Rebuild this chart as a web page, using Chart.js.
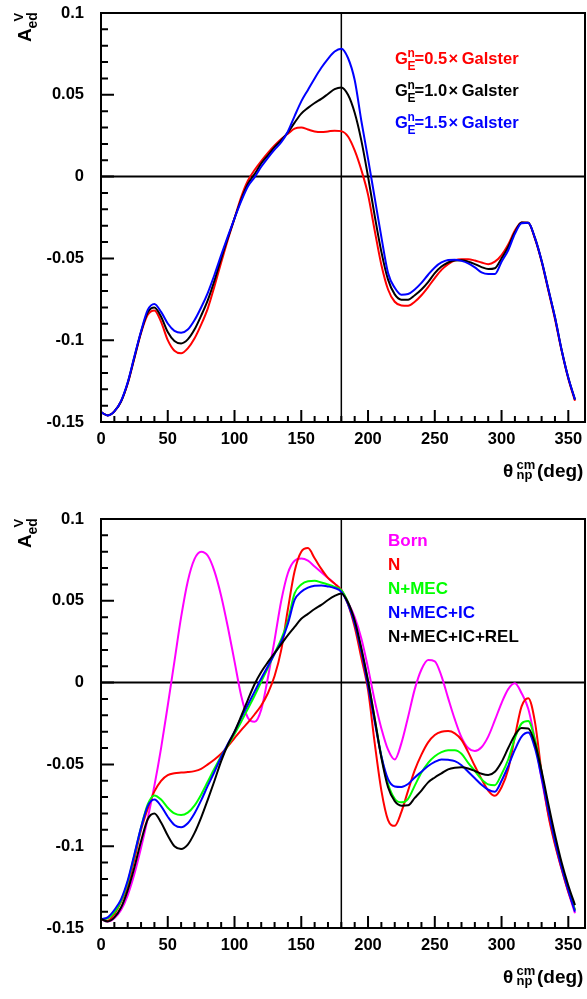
<!DOCTYPE html>
<html>
<head>
<meta charset="utf-8">
<script src="https://cdn.jsdelivr.net/npm/chart.js@4.4.1/dist/chart.umd.min.js"></script>
<style>
  html, body { margin: 0; padding: 0; background: #fff; }
  #wrap { position: relative; width: 587px; height: 999px; }
  .panel { position: absolute; left: 0; width: 587px; height: 493px; }
  #top { top: 0; }
  #bottom { top: 506px; }
</style>
</head>
<body>
<div id="wrap">
  <div class="panel" id="top"><canvas id="chartTop" width="587" height="493"></canvas></div>
  <div class="panel" id="bottom"><canvas id="chartBottom" width="587" height="493"></canvas></div>
</div>
<script>
const theta = [0, 5, 10, 15, 20, 25, 30, 35, 40, 45, 50, 55, 60, 65, 70, 75, 80, 85, 90, 95,
  100, 105, 110, 115, 120, 125, 130, 135, 140, 145, 150, 155, 160, 165, 170, 175, 180, 185, 190, 195,
  200, 205, 210, 215, 220, 225, 230, 235, 240, 245, 250, 255, 260, 265, 270, 275, 280, 285, 290, 295,
  300, 305, 310, 315, 320, 325, 330, 335, 340, 345, 350, 355];

const xTickLabels = ['0', '50', '100', '150', '200', '250', '300', '350'];
const yTickLabels = ['0.1', '0.05', '0', '-0.05', '-0.1', '-0.15'];

// top panel: G_E^n scaled
const galster05 = [-0.1440, -0.1460, -0.1435, -0.1375, -0.1265, -0.1110, -0.0955, -0.0845, -0.0818, -0.0888,
  -0.1000, -0.1065, -0.1080, -0.1050, -0.0990, -0.0905, -0.0805, -0.0670, -0.0525, -0.0385,
  -0.0255, -0.0125, -0.0025, 0.0040, 0.0095, 0.0145, 0.0190, 0.0230, 0.0262, 0.0293,
  0.0300, 0.0288, 0.0276, 0.0272, 0.0276, 0.0281, 0.0278, 0.0245, 0.0160, 0.0040,
  -0.0110, -0.0330, -0.0540, -0.0690, -0.0765, -0.0788, -0.0790, -0.0765, -0.0725, -0.0675,
  -0.0620, -0.0570, -0.0535, -0.0512, -0.0505, -0.0505, -0.0513, -0.0525, -0.0535, -0.0520,
  -0.0480, -0.0415, -0.0330, -0.0280, -0.0282, -0.0380, -0.0520, -0.0695, -0.0870, -0.1065,
  -0.1235, -0.1370];
const galster10 = [-0.1440, -0.1460, -0.1435, -0.1375, -0.1262, -0.1105, -0.0950, -0.0830, -0.0800, -0.0857,
  -0.0950, -0.1005, -0.1020, -0.0995, -0.0935, -0.0850, -0.0755, -0.0635, -0.0500, -0.0375,
  -0.0255, -0.0140, -0.0045, 0.0015, 0.0080, 0.0130, 0.0180, 0.0222, 0.0270, 0.0330,
  0.0385, 0.0420, 0.0450, 0.0475, 0.0505, 0.0535, 0.0545, 0.0500, 0.0390, 0.0220,
  0.0000, -0.0240, -0.0460, -0.0630, -0.0720, -0.0752, -0.0752, -0.0725, -0.0690, -0.0645,
  -0.0590, -0.0550, -0.0525, -0.0513, -0.0512, -0.0520, -0.0535, -0.0553, -0.0565, -0.0560,
  -0.0500, -0.0430, -0.0340, -0.0280, -0.0282, -0.0375, -0.0515, -0.0687, -0.0860, -0.1060,
  -0.1230, -0.1363];
const galster15 = [-0.1440, -0.1460, -0.1435, -0.1372, -0.1258, -0.1100, -0.0945, -0.0815, -0.0778, -0.0827,
  -0.0898, -0.0943, -0.0955, -0.0935, -0.0878, -0.0800, -0.0710, -0.0600, -0.0480, -0.0365,
  -0.0255, -0.0150, -0.0060, -0.0005, 0.0060, 0.0115, 0.0165, 0.0210, 0.0276, 0.0370,
  0.0460, 0.0530, 0.0600, 0.0665, 0.0720, 0.0765, 0.0782, 0.0725, 0.0590, 0.0340,
  0.0110, -0.0130, -0.0370, -0.0590, -0.0680, -0.0722, -0.0718, -0.0690, -0.0650, -0.0600,
  -0.0555, -0.0525, -0.0510, -0.0508, -0.0515, -0.0530, -0.0555, -0.0585, -0.0595, -0.0595,
  -0.0520, -0.0450, -0.0350, -0.0285, -0.0282, -0.0375, -0.0515, -0.0687, -0.0860, -0.1060,
  -0.1230, -0.1363];

// bottom panel: model ingredients
const born = [-0.1445, -0.1460, -0.1440, -0.1390, -0.1300, -0.1170, -0.1010, -0.0830, -0.0630, -0.0400,
  -0.0140, 0.0130, 0.0400, 0.0620, 0.0755, 0.0800, 0.0775, 0.0680, 0.0530, 0.0340,
  0.0130, -0.0080, -0.0215, -0.0240, -0.0165, 0.0030, 0.0260, 0.0500, 0.0670, 0.0745,
  0.0758, 0.0745, 0.0710, 0.0675, 0.0640, 0.0605, 0.0565, 0.0490, 0.0400, 0.0270,
  0.0090, -0.0110, -0.0280, -0.0410, -0.0470, -0.0370, -0.0210, -0.0040, 0.0080, 0.0138,
  0.0130, 0.0040, -0.0095, -0.0225, -0.0335, -0.0400, -0.0418, -0.0395, -0.0330, -0.0230,
  -0.0125, -0.0040, -0.0004, -0.0065, -0.0160, -0.0350, -0.0590, -0.0800, -0.0980, -0.1140,
  -0.1280, -0.1410];
const nucl = [-0.1445, -0.1455, -0.1415, -0.1340, -0.1245, -0.1080, -0.0900, -0.0770, -0.0665, -0.0600,
  -0.0565, -0.0554, -0.0550, -0.0547, -0.0541, -0.0527, -0.0500, -0.0470, -0.0435, -0.0390,
  -0.0340, -0.0290, -0.0245, -0.0195, -0.0140, -0.0065, 0.0040, 0.0200, 0.0450, 0.0680,
  0.0800, 0.0822, 0.0760, 0.0695, 0.0640, 0.0605, 0.0565, 0.0480, 0.0340, 0.0150,
  -0.0045, -0.0370, -0.0660, -0.0840, -0.0875, -0.0790, -0.0660, -0.0535, -0.0440, -0.0365,
  -0.0320, -0.0300, -0.0296, -0.0310, -0.0350, -0.0425, -0.0510, -0.0590, -0.0660, -0.0692,
  -0.0640, -0.0530, -0.0330, -0.0145, -0.0095, -0.0240, -0.0550, -0.0810, -0.0990, -0.1140,
  -0.1280, -0.1390];
const nMec = [-0.1445, -0.1440, -0.1405, -0.1335, -0.1220, -0.1055, -0.0885, -0.0745, -0.0690, -0.0715,
  -0.0765, -0.0800, -0.0810, -0.0795, -0.0752, -0.0685, -0.0605, -0.0525, -0.0450, -0.0385,
  -0.0315, -0.0240, -0.0160, -0.0080, 0.0005, 0.0090, 0.0180, 0.0265, 0.0380, 0.0545,
  0.0600, 0.0620, 0.0622, 0.0612, 0.0600, 0.0585, 0.0565, 0.0490, 0.0370, 0.0200,
  0.0010, -0.0220, -0.0450, -0.0620, -0.0710, -0.0732, -0.0710, -0.0630, -0.0550, -0.0490,
  -0.0450, -0.0425, -0.0413, -0.0413, -0.0435, -0.0490, -0.0540, -0.0590, -0.0622, -0.0627,
  -0.0560, -0.0470, -0.0340, -0.0250, -0.0235, -0.0350, -0.0550, -0.0770, -0.0960, -0.1120,
  -0.1260, -0.1390];
const nMecIc = [-0.1445, -0.1435, -0.1390, -0.1325, -0.1210, -0.1050, -0.0885, -0.0755, -0.0715, -0.0755,
  -0.0820, -0.0870, -0.0884, -0.0860, -0.0800, -0.0720, -0.0630, -0.0545, -0.0455, -0.0375,
  -0.0300, -0.0215, -0.0135, -0.0055, 0.0025, 0.0100, 0.0175, 0.0250, 0.0360, 0.0505,
  0.0555, 0.0580, 0.0592, 0.0594, 0.0588, 0.0578, 0.0555, 0.0480, 0.0360, 0.0190,
  -0.0020, -0.0240, -0.0450, -0.0590, -0.0635, -0.0638, -0.0620, -0.0580, -0.0545, -0.0510,
  -0.0485, -0.0470, -0.0472, -0.0480, -0.0505, -0.0545, -0.0585, -0.0625, -0.0655, -0.0667,
  -0.0600, -0.0510, -0.0410, -0.0330, -0.0305, -0.0400, -0.0580, -0.0780, -0.0970, -0.1130,
  -0.1270, -0.1400];
const nMecIcRel = [-0.1445, -0.1460, -0.1435, -0.1375, -0.1270, -0.1130, -0.0970, -0.0835, -0.0800, -0.0855,
  -0.0935, -0.1000, -0.1017, -0.0990, -0.0920, -0.0825, -0.0715, -0.0600, -0.0480, -0.0380,
  -0.0300, -0.0205, -0.0105, -0.0010, 0.0065, 0.0125, 0.0180, 0.0235, 0.0290, 0.0340,
  0.0390, 0.0420, 0.0450, 0.0475, 0.0505, 0.0530, 0.0545, 0.0490, 0.0380, 0.0210,
  0.0010, -0.0220, -0.0460, -0.0640, -0.0725, -0.0752, -0.0750, -0.0705, -0.0660, -0.0610,
  -0.0580, -0.0555, -0.0530, -0.0520, -0.0518, -0.0525, -0.0540, -0.0557, -0.0565, -0.0545,
  -0.0485, -0.0400, -0.0320, -0.0278, -0.0280, -0.0370, -0.0540, -0.0740, -0.0930, -0.1100,
  -0.1240, -0.1360];

const FONT = '"Liberation Sans", Arial, Helvetica, sans-serif';

const toPoints = (values) => theta.map((t, i) => ({ x: t, y: values[i] }));

const series = (values, color, order) => ({
  data: toPoints(values),
  borderColor: color,
  borderWidth: 2,
  order: order,
  pointRadius: 0,
  fill: false,
  cubicInterpolationMode: 'monotone'
});

// zero line and 180 deg line under the curves, frame and inward ticks on top
const frameLines = {
  id: 'frameLines',
  beforeDatasetsDraw(chart) {
    const { ctx, chartArea: a, scales: { x, y } } = chart;
    ctx.save();
    ctx.strokeStyle = '#000';
    ctx.lineWidth = 2;
    const y0 = y.getPixelForValue(0);
    ctx.beginPath();
    ctx.moveTo(a.left, y0);
    ctx.lineTo(a.right, y0);
    ctx.stroke();
    ctx.lineWidth = 1.5;
    const x180 = x.getPixelForValue(180);
    ctx.beginPath();
    ctx.moveTo(x180, a.top);
    ctx.lineTo(x180, a.bottom);
    ctx.stroke();
    ctx.restore();
  },
  afterDatasetsDraw(chart) {
    const { ctx, chartArea: a, scales: { x, y } } = chart;
    ctx.save();
    ctx.strokeStyle = '#000';
    ctx.lineWidth = 2;
    ctx.strokeRect(a.left, a.top, a.right - a.left, a.bottom - a.top);
    ctx.beginPath();
    x.ticks.forEach(t => {
      const px = x.getPixelForValue(t.value);
      const len = t.label ? 12 : 6;
      ctx.moveTo(px, a.bottom);
      ctx.lineTo(px, a.bottom - len);
    });
    y.ticks.forEach(t => {
      const py = y.getPixelForValue(t.value);
      const len = t.label ? 13 : 7;
      ctx.moveTo(a.left, py);
      ctx.lineTo(a.left + len, py);
    });
    ctx.stroke();
    ctx.restore();
  }
};

const drawAxisTitles = (ctx) => {
  ctx.fillStyle = '#000';
  ctx.textBaseline = 'alphabetic';
  ctx.textAlign = 'left';
  // A_ed^V, rotated
  ctx.save();
  ctx.translate(31, 42);
  ctx.rotate(-Math.PI / 2);
  ctx.font = 'bold 19px ' + FONT;
  ctx.fillText('A', 0, 0);
  ctx.restore();
  ctx.save();
  ctx.translate(36.5, 28.5);
  ctx.rotate(-Math.PI / 2);
  ctx.font = 'bold 14px ' + FONT;
  ctx.fillText('ed', 0, 0);
  ctx.restore();
  ctx.save();
  ctx.translate(22.5, 21.5);
  ctx.rotate(-Math.PI / 2);
  ctx.font = 'bold 13px ' + FONT;
  ctx.fillText('V', 0, 0);
  ctx.restore();
  // theta_np^cm (deg)
  ctx.font = 'bold 19px ' + FONT;
  ctx.fillText('\u03b8', 503, 477);
  ctx.font = 'bold 13px ' + FONT;
  ctx.fillText('cm', 516.5, 469);
  ctx.fillText('np', 516.5, 479);
  ctx.font = 'bold 19px ' + FONT;
  ctx.fillText('(deg)', 537, 477);
};

const drawGalster = (ctx, x, y, factor, color) => {
  ctx.fillStyle = color;
  ctx.font = 'bold 16.5px ' + FONT;
  ctx.fillText('G', x, y);
  ctx.font = 'bold 12px ' + FONT;
  ctx.fillText('n', x + 12.5, y - 7.5);
  ctx.fillText('E', x + 12.5, y + 5.5);
  ctx.font = 'bold 16.5px ' + FONT;
  ctx.fillText('=' + factor, x + 19.5, y);
  ctx.fillText('\u00d7', x + 53.5, y);
  ctx.fillText('Galster', x + 66.7, y);
};

const panelText = {
  id: 'panelText',
  afterDraw(chart, args, opts) {
    const ctx = chart.ctx;
    ctx.save();
    drawAxisTitles(ctx);
    ctx.textAlign = 'left';
    ctx.textBaseline = 'alphabetic';
    if (opts.panel === 'top') {
      drawGalster(ctx, 395, 64, '0.5', '#ff0000');
      drawGalster(ctx, 395, 96, '1.0', '#000000');
      drawGalster(ctx, 395, 128, '1.5', '#0000ff');
    } else {
      ctx.font = 'bold 17px ' + FONT;
      ctx.fillStyle = '#ff00ff';
      ctx.fillText('Born', 388, 39.5);
      ctx.fillStyle = '#ff0000';
      ctx.fillText('N', 388, 63.5);
      ctx.fillStyle = '#00ff00';
      ctx.fillText('N+MEC', 388, 87.5);
      ctx.fillStyle = '#0000ff';
      ctx.fillText('N+MEC+IC', 388, 112);
      ctx.fillStyle = '#000000';
      ctx.fillText('N+MEC+IC+REL', 388, 136);
    }
    ctx.restore();
  }
};

const tickFont = { family: FONT, size: 16.5, weight: 'bold' };

const makeChart = (canvasId, datasets, panel) => new Chart(document.getElementById(canvasId), {
  type: 'line',
  data: { datasets: datasets },
  options: {
    responsive: false,
    animation: false,
    events: [],
    layout: { padding: { left: 0, right: 2, top: 13, bottom: 0 } },
    plugins: {
      legend: { display: false },
      tooltip: { enabled: false },
      panelText: { panel: panel }
    },
    scales: {
      x: {
        type: 'linear',
        min: 0,
        max: 362.5,
        grid: { display: false, drawTicks: false },
        border: { display: false },
        afterBuildTicks: (scale) => {
          scale.ticks = scale.ticks.filter(t => Math.abs(t.value / 10 - Math.round(t.value / 10)) < 1e-6);
        },
        afterFit: (scale) => {
          scale.height = 71;
          scale.paddingLeft = 0;
          scale.paddingRight = 0;
        },
        ticks: {
          stepSize: 10,
          autoSkip: false,
          maxRotation: 0,
          padding: 8,
          color: '#000',
          font: tickFont,
          callback: (value) => {
            const s = String(Math.round(value));
            return xTickLabels.includes(s) ? s : '';
          }
        }
      },
      y: {
        type: 'linear',
        min: -0.15,
        max: 0.1,
        grid: { display: false, drawTicks: false },
        border: { display: false },
        afterFit: (scale) => {
          scale.width = 101;
          scale.paddingTop = 0;
          scale.paddingBottom = 0;
        },
        ticks: {
          stepSize: 0.01,
          autoSkip: false,
          padding: 17,
          color: '#000',
          font: tickFont,
          callback: (value) => {
            const s = String(Number(value.toFixed(2)));
            return yTickLabels.includes(s) ? s : '';
          }
        }
      }
    }
  },
  plugins: [frameLines, panelText]
});

makeChart('chartTop', [
  series(galster05, '#ff0000', 3),
  series(galster10, '#000000', 2),
  series(galster15, '#0000ff', 1)
], 'top');

makeChart('chartBottom', [
  series(born, '#ff00ff', 5),
  series(nucl, '#ff0000', 4),
  series(nMec, '#00ff00', 3),
  series(nMecIc, '#0000ff', 2),
  series(nMecIcRel, '#000000', 1)
], 'bottom');
</script>
</body>
</html>
